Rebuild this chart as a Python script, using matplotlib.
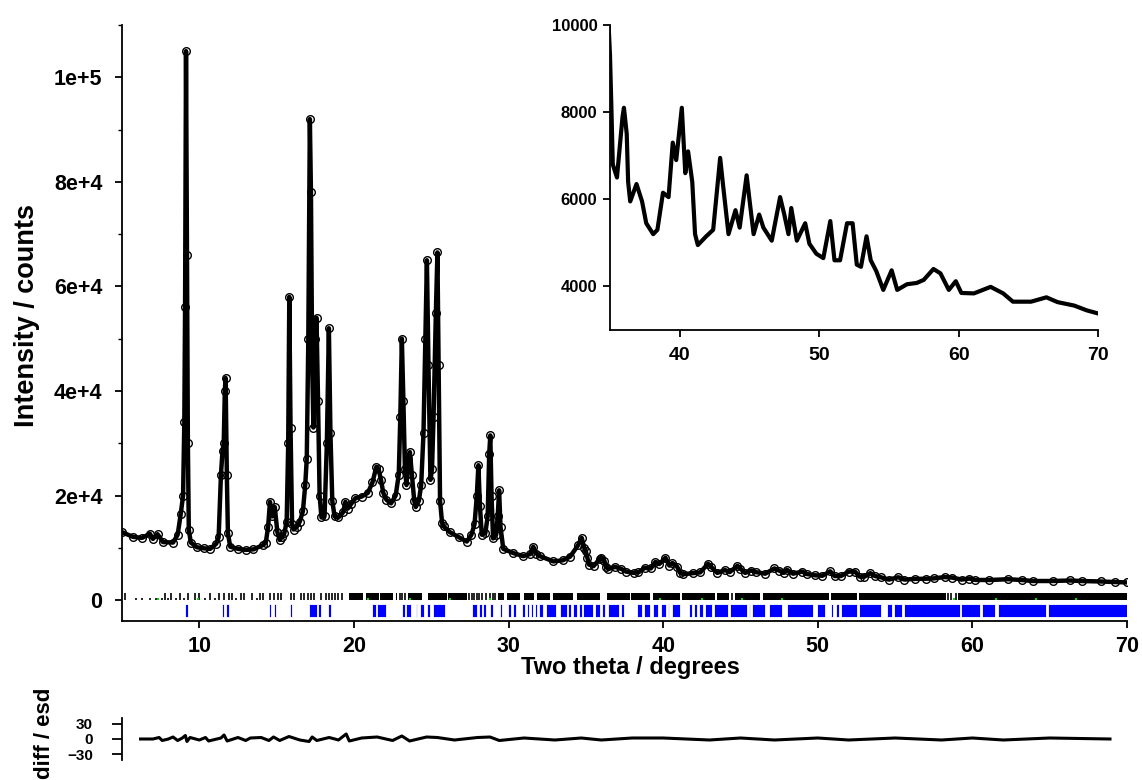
import matplotlib
matplotlib.use('Agg')
import matplotlib.pyplot as plt
from matplotlib.ticker import FixedLocator, MultipleLocator, NullLocator

plt.rcParams['font.family'] = ['Liberation Sans', 'DejaVu Sans']
plt.rcParams['font.weight'] = 'bold'

# ---------------- data ----------------
# observed / calculated profile (two theta, counts)
two_theta = [5.0, 5.7, 6.3, 6.8, 7.0, 7.3, 7.65, 8.3, 8.6, 8.8, 8.95, 9.03, 9.08, 9.14, 9.2,
             9.26, 9.32, 9.45, 9.85, 10.3, 10.7, 11.1, 11.25, 11.4, 11.5, 11.58, 11.65, 11.7,
             11.78, 11.85, 12.0, 12.5, 13.0, 13.5, 14.1, 14.3, 14.45, 14.57, 14.7, 14.88, 15.05,
             15.2, 15.35, 15.5, 15.65, 15.75, 15.82, 15.9, 16.0, 16.1, 16.3, 16.5, 16.7, 16.85,
             16.95, 17.05, 17.15, 17.22, 17.3, 17.38, 17.5, 17.58, 17.68, 17.78, 17.9, 18.1,
             18.25, 18.38, 18.48, 18.6, 18.75, 19.0, 19.3, 19.45, 19.6, 19.8, 20.1, 20.5, 20.9,
             21.2, 21.45, 21.6, 21.75, 21.9, 22.1, 22.4, 22.7, 22.9, 23.0, 23.1, 23.2, 23.3,
             23.4, 23.5, 23.62, 23.75, 23.9, 24.0, 24.2, 24.35, 24.5, 24.62, 24.72, 24.82,
             24.95, 25.05, 25.15, 25.3, 25.4, 25.48, 25.57, 25.7, 25.8, 26.2, 26.8, 27.3, 27.6,
             27.8, 27.95, 28.05, 28.15, 28.27, 28.5, 28.65, 28.75, 28.82, 28.9, 29.0, 29.2,
             29.3, 29.39, 29.48, 29.66, 30.3, 30.96, 31.4, 31.6, 31.8, 32.04, 32.9, 33.5, 33.98,
             34.5, 34.73, 34.9, 35.0, 35.1, 35.2, 35.5, 35.9, 36.0, 36.2, 36.3, 36.45, 36.9,
             37.3, 37.6, 38.1, 38.4, 38.8, 39.2, 39.5, 39.75, 40.15, 40.4, 40.6, 40.9, 41.1,
             41.3, 41.9, 42.4, 42.9, 43.1, 43.5, 44.0, 44.3, 44.8, 45.0, 45.3, 45.7, 46.0,
             46.6, 47.2, 47.5, 47.8, 48.0, 48.4, 49.0, 49.3, 49.8, 50.3, 50.8, 51.1, 51.5,
             52.0, 52.4, 52.7, 53.0, 53.4, 53.7, 54.1, 54.6, 55.2, 55.6, 56.3, 57.0, 57.5,
             58.2, 58.7, 59.3, 59.8, 60.2, 61.1, 62.3, 63.2, 63.9, 65.2, 66.3, 67.1, 68.3,
             69.2, 70.0]
intensity = [13000, 12100, 11900, 12700, 11700, 12600, 11100, 11000, 12500, 16500, 20000,
             34000, 56000, 105000, 66000,
             30000, 13500, 11000, 10100, 9900, 9800, 10800, 12000, 24000, 28500, 30000, 40000,
             42500, 24000, 12800, 10200, 9800, 9600, 9700, 10500, 11000, 14000, 18800, 16000,
             17800, 13000,
             11500, 12100, 12800, 15000, 30000, 58000, 33000, 14500, 13500, 14000, 15000,
             17000, 22000,
             27000, 50000, 92000, 78000, 45000, 33000, 50000, 54000, 38000, 20000, 15800,
             16000,
             30000, 52000, 32000, 19000, 16000, 15800, 16800, 18800, 17500, 18300, 19500,
             19800, 20500,
             22500, 25500, 25000, 23000, 20500, 19200, 18500, 20000, 24000, 35000, 50000,
             38000, 25000,
             22000, 27000, 28300, 24000, 19000, 17800, 19000, 22000, 32000, 50000, 65000,
             45000,
             23000, 25000, 35000, 55000, 66500, 45000, 19000, 14800, 14100, 13000, 12000,
             11200, 12500,
             14500, 20000, 25800, 18000, 12500, 12800, 16000, 28000, 31500, 20000, 11800,
             12500,
             16000, 21000, 14000, 9800, 9000, 8400, 8800, 10200, 8900, 8400, 7400, 7600, 8300,
             10500, 11900, 10000, 9300, 8100, 6800, 6500, 7900, 8100, 7500, 6400, 5950, 6350,
             5950, 5450, 5200, 5300, 6150, 6050, 7300, 6900, 8100, 6600, 7100, 6400, 5200,
             4950, 5150, 5300, 6950, 6350, 5200, 5750, 5350, 6550, 6000, 5200, 5650, 5350,
             5050, 6050, 5650, 5200, 5800, 5050, 5450, 4980, 4750, 4650, 5500, 4600, 4600,
             5450, 5450, 4500, 4450, 5150, 4600, 4350, 3920, 4370, 3920, 4050, 4080, 4150,
             4400, 4300, 3920, 4120, 3850, 3840, 3990, 3840, 3650, 3650, 3750, 3640, 3560,
             3450, 3380]

# difference curve (diff / esd)
diff_x = [6.2, 7.0, 7.4, 7.6, 8.0, 8.3, 8.6, 8.9, 9.1, 9.2, 9.4, 10.0, 10.4, 10.6, 11.4,
          11.6, 11.8, 12.5, 13.0, 13.3, 14.0, 14.5, 14.8, 15.2, 15.8, 16.5, 17.1, 17.3, 17.6,
          18.4, 19.0, 19.5, 19.7, 20.5, 21.5, 22.5, 23.1, 23.6, 24.7, 25.4, 26.5, 28.0, 28.8,
          29.4, 31.0, 33.0, 34.7, 36.0, 38.0, 40.0, 43.0, 45.0, 47.2, 50.0, 52.0, 55.0, 58.0,
          60.0, 62.0, 65.0, 68.9]
diff_y = [0, 0, 3, -3, 0, 4, -3, 2, 7, -5, 3, -2, 3, -4, 2,
          8, -4, 3, -3, 2, 3, -3, 4, -3, 5, -2, -5, 4, -3,
          3, -2, 10, -4, 2, 4, -3, 6, -4, 4, 3, -2, 3, 4,
          -3, 2, -2, 2, -2, 2, 2, -2, 2, -2, 2, -2, 2, -2,
          2, -2, 2, 0]

# phase 1 reflection ticks (black): isolated positions and dense runs
black_ticks = [5.2, 7.8, 8.2, 8.75, 9.3, 9.7, 10.0, 10.7, 11.3, 11.6, 11.9, 12.1, 12.7,
               12.9, 13.4, 13.9, 14.1, 14.6, 14.8, 15.1, 15.3, 15.9, 16.1, 16.6, 16.8, 17.0,
               17.2, 17.4, 17.9, 18.2, 18.4, 18.6, 18.8, 19.0, 19.2, 22.95, 23.1, 23.3,
               27.44, 27.62, 27.79, 27.94, 28.11, 28.31, 28.54, 28.8, 28.98, 29.13, 44.45,
               58.45, 58.6, 58.94]
black_dots = [5.9, 6.3, 6.8, 7.2, 7.6, 8.0, 8.5, 9.0, 10.4, 11.0, 12.4, 13.7]
black_runs = [(19.7, 20.6), (20.8, 21.6), (21.69, 22.55), (22.72, 22.81), (23.52, 24.38),
              (24.81, 26.0), (26.11, 27.3), (29.35, 29.71), (29.88, 30.74), (31.0, 31.65),
              (31.82, 32.68), (32.9, 34.19), (34.41, 35.92), (36.35, 37.83), (37.95, 39.17),
              (39.33, 41.09), (41.2, 43.33), (43.49, 44.27), (44.63, 46.25), (46.43, 50.74),
              (50.85, 52.54), (52.67, 58.27), (59.05, 70.0)]

# phase 2 reflection ticks (blue) as runs
blue_runs = [(9.08, 9.27), (11.47, 11.62), (11.73, 11.9), (14.53, 14.65), (14.83, 14.96),
             (15.87, 16.0), (17.1, 17.6), (17.7, 17.85), (18.3, 18.5), (21.2, 21.4),
             (21.5, 22.1), (23.1, 23.3), (23.4, 23.7), (24.0, 24.1), (24.3, 24.5),
             (24.7, 24.9), (25.1, 25.9), (27.62, 27.94), (28.09, 28.27), (28.37, 28.54),
             (28.8, 28.98), (29.45, 29.56), (29.99, 30.14), (30.27, 30.49), (30.85, 31.07),
             (31.18, 31.35), (31.43, 31.6), (31.71, 31.86), (31.99, 32.25), (32.43, 33.07),
             (33.33, 33.76), (33.87, 34.02), (34.15, 34.41), (34.58, 34.73), (34.84, 35.48),
             (35.6, 35.92), (36.03, 36.24), (36.46, 37.15), (37.26, 37.45), (38.33, 38.62),
             (38.77, 39.17), (39.33, 39.69), (39.85, 40.19), (40.3, 40.41), (40.57, 41.09),
             (41.69, 41.87), (41.98, 42.21), (42.32, 42.59), (42.7, 43.15), (43.29, 44.18),
             (44.3, 45.4), (45.53, 45.62), (45.73, 46.58), (46.86, 47.71), (47.98, 49.66),
             (49.95, 50.47), (50.85, 51.01), (51.19, 51.37), (51.53, 52.54), (52.65, 54.11),
             (54.45, 54.79), (54.96, 55.42), (55.57, 59.17), (59.28, 60.51), (60.62, 61.46),
             (61.64, 64.78), (64.89, 70.0)]

# phase 3 reflection markers (green)
green_ticks = [7.3, 9.9, 20.9, 23.6, 26.2, 28.8, 39.8, 42.5, 45.1, 47.7, 58.8, 61.5, 64.1, 66.7]

x_ticks = [10, 20, 30, 40, 50, 60, 70]
y_ticks = [0, 20000, 40000, 60000, 80000, 100000]
y_tick_labels = ['0', '2e+4', '4e+4', '6e+4', '8e+4', '1e+5']
inset_x_ticks = [40, 50, 60, 70]
inset_y_ticks = [4000, 6000, 8000, 10000]
diff_ticks = [-30, 0, 30]

# ---------------- figure ----------------
fig = plt.figure(figsize=(11.42, 7.8), dpi=100)


def style(ax, fs):
    for s in ('top', 'right'):
        ax.spines[s].set_visible(False)
    for s in ('left', 'bottom'):
        ax.spines[s].set_linewidth(1.3)
    ax.tick_params(which='major', direction='out', length=5, width=1.3, labelsize=fs)
    ax.tick_params(which='minor', direction='out', length=3, width=1.0)
    for lab in ax.get_xticklabels() + ax.get_yticklabels():
        lab.set_fontweight('bold')


# main axes
ax = fig.add_axes([0.10683, 0.20385, 0.88004, 0.7641])
ax.plot(two_theta, intensity, color='black', lw=3.2, zorder=3)
ax.plot(two_theta, intensity, linestyle='none', marker='o', ms=5.5, mfc='none',
        mec='black', mew=1.0, zorder=4)
ax.vlines(black_ticks, 0, 1400, color='black', lw=1.2, zorder=2)
ax.vlines(black_dots, 0, 350, color='black', lw=1.2, zorder=2)
ax.broken_barh([(a, b - a) for a, b in black_runs], (0, 1400), facecolors='black',
               edgecolor='none', zorder=2)
ax.broken_barh([(a, b - a) for a, b in blue_runs], (-3250, 2450), facecolors='#0000ff',
               edgecolor='white', linewidth=0.6, zorder=2)
ax.plot(green_ticks, [150] * len(green_ticks), linestyle='none', marker='s', ms=2,
        color='#00dd00', mew=0, zorder=5)
ax.set_xlim(5, 70)
ax.set_ylim(-4000, 110000)
ax.xaxis.set_major_locator(FixedLocator(x_ticks))
ax.yaxis.set_major_locator(FixedLocator(y_ticks))
ax.set_yticklabels(y_tick_labels)
ax.yaxis.set_minor_locator(MultipleLocator(10000))
style(ax, 15.5)
ax.tick_params(axis='y', which='major', pad=9)
ax.tick_params(axis='x', which='major', pad=6)

# inset axes
axi = fig.add_axes([0.53415, 0.57692, 0.42732, 0.39103])
axi.set_facecolor('white')
axi.plot(two_theta, intensity, color='black', lw=3.0, zorder=3)
axi.set_xlim(35, 70)
axi.set_ylim(3000, 10000)
axi.xaxis.set_major_locator(FixedLocator(inset_x_ticks))
axi.yaxis.set_major_locator(FixedLocator(inset_y_ticks))
style(axi, 12)
axi.tick_params(axis='y', which='major', pad=4)
axi.tick_params(axis='x', which='major', pad=7)
for lab in axi.get_xticklabels():
    lab.set_fontsize(14)

# difference axes
axd = fig.add_axes([0.10683, 0.02564, 0.88004, 0.05385])
axd.plot(diff_x, diff_y, color='black', lw=2.2)
axd.set_xlim(5, 70)
axd.set_ylim(-42, 42)
axd.yaxis.set_major_locator(FixedLocator(diff_ticks))
axd.xaxis.set_major_locator(NullLocator())
style(axd, 11)
axd.spines['bottom'].set_visible(False)
axd.tick_params(axis='y', which='major', pad=14, length=7)
axd.patch.set_alpha(0)

# axis titles
fig.text(0.0236, 0.596, 'Intensity / counts', rotation=90, ha='center', va='center',
         fontsize=19.5, fontweight='bold')
fig.text(0.5517, 0.1445, 'Two theta / degrees', ha='center', va='center',
         fontsize=17, fontweight='bold')
fig.text(0.0394, 0.0603, 'diff / esd', rotation=90, ha='center', va='center',
         fontsize=16, fontweight='bold')

fig.savefig('out.png', dpi=100)
